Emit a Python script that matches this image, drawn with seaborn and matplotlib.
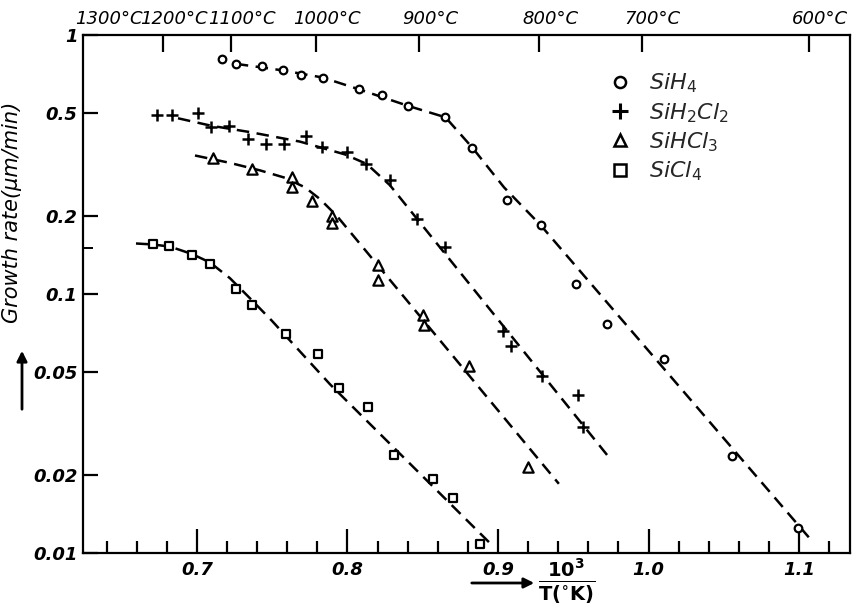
import matplotlib
matplotlib.use("Agg")
import matplotlib.pyplot as plt
import matplotlib.transforms as mtransforms
import seaborn as sns
import pandas as pd
from matplotlib.ticker import FixedLocator, MultipleLocator, NullFormatter
from matplotlib.lines import Line2D

# ---------------- data ----------------
sih4_x = [0.7164, 0.7258, 0.7435, 0.7572, 0.7693, 0.7836, 0.8076, 0.8226, 0.8405,
          0.8651, 0.8830, 0.9058, 0.9285, 0.9521, 0.9727, 1.0101, 1.0554, 1.0995]
sih4_y = [0.806, 0.774, 0.758, 0.730, 0.702, 0.685, 0.617, 0.589, 0.532,
          0.481, 0.367, 0.231, 0.184, 0.109, 0.0766, 0.0562, 0.0236, 0.01245]

sih2cl2_x = [0.6732, 0.6832, 0.7009, 0.7093, 0.7215, 0.7337, 0.7458, 0.7580, 0.7722, 0.7828,
             0.7995, 0.8126, 0.8282, 0.8465, 0.8651, 0.9031, 0.9086, 0.9290, 0.9528, 0.9565]
sih2cl2_y = [0.489, 0.489, 0.500, 0.441, 0.445, 0.395, 0.379, 0.379, 0.407, 0.371,
             0.354, 0.317, 0.276, 0.1945, 0.1524, 0.0719, 0.0628, 0.0483, 0.0409, 0.0307]

sihcl3_x = [0.7104, 0.7363, 0.7629, 0.7629, 0.7766, 0.7895, 0.7895, 0.8203, 0.8203,
            0.8501, 0.8510, 0.8807, 0.9197]
sihcl3_y = [0.335, 0.304, 0.284, 0.260, 0.229, 0.2006, 0.1873, 0.1297, 0.1137,
            0.0831, 0.0762, 0.0528, 0.0214]

sicl4_x = [0.6710, 0.6816, 0.6965, 0.7086, 0.7259, 0.7363, 0.7591, 0.7806, 0.7946,
           0.8136, 0.8311, 0.8568, 0.8703, 0.8881]
sicl4_y = [0.1553, 0.1539, 0.141, 0.1308, 0.1048, 0.0903, 0.0702, 0.0586, 0.0432,
           0.0365, 0.0238, 0.0193, 0.0163, 0.01088]

# dashed fit curves
sih4_fit_x = [0.7258, 0.7570, 0.7836, 0.8076, 0.8405, 0.8651, 0.8830, 0.9040, 0.9285, 1.1073]
sih4_fit_y = [0.774, 0.730, 0.685, 0.617, 0.532, 0.481, 0.367, 0.258, 0.1838, 0.01134]
sih2cl2_fit_x = [0.6874, 0.7093, 0.7352, 0.7684, 0.7983, 0.8128, 0.8282, 0.9727]
sih2cl2_fit_y = [0.477, 0.4465, 0.4218, 0.3876, 0.3459, 0.3177, 0.263, 0.0238]
sihcl3_fit_x = [0.6987, 0.7219, 0.7419, 0.7585, 0.7718, 0.7817, 0.7930, 0.9404]
sihcl3_fit_y = [0.3426, 0.3208, 0.3001, 0.2810, 0.258, 0.2326, 0.200, 0.0185]
sicl4_fit_x = [0.6595, 0.6708, 0.6821, 0.6967, 0.7086, 0.7219, 0.7352, 0.7498, 0.7884, 0.8953]
sicl4_fit_y = [0.1567, 0.1553, 0.1524, 0.1427, 0.1324, 0.1151, 0.0963, 0.0788, 0.0448, 0.01082]

series_names = ["SiH4", "SiH2Cl2", "SiHCl3", "SiCl4"]
legend_labels = [r"$SiH_4$", r"$SiH_2Cl_2$", r"$SiHCl_3$", r"$SiCl_4$"]

y_ticks = [0.01, 0.02, 0.05, 0.1, 0.2, 0.5, 1]
y_tick_labels = ["0.01", "0.02", "0.05", "0.1", "0.2", "0.5", "1"]
x_ticks = [0.7, 0.8, 0.9, 1.0, 1.1]
x_tick_labels = ["0.7", "0.8", "0.9", "1.0", "1.1"]
top_labels = ["1300°C", "1200°C", "1100°C", "1000°C", "900°C", "800°C", "700°C", "600°C"]
top_pos = [0.634, 0.6774, 0.7226, 0.7791, 0.8477, 0.9272, 0.9954, 1.1066]

# ---------------- figure ----------------
sns.set_theme(style="white")
plt.rcParams["font.family"] = ["DejaVu Sans"]
plt.rcParams["mathtext.fontset"] = "dejavusans"

W, H = 854, 606
fig = plt.figure(figsize=(W / 100, H / 100), dpi=100)
ax = fig.add_axes([83 / W, 1 - 553 / H, (850 - 83) / W, (553 - 35) / H])

pts = pd.concat([
    pd.DataFrame({"x": sih4_x, "y": sih4_y, "s": "SiH4"}),
    pd.DataFrame({"x": sih2cl2_x, "y": sih2cl2_y, "s": "SiH2Cl2"}),
    pd.DataFrame({"x": sihcl3_x, "y": sihcl3_y, "s": "SiHCl3"}),
    pd.DataFrame({"x": sicl4_x, "y": sicl4_y, "s": "SiCl4"}),
])
fits = pd.concat([
    pd.DataFrame({"x": sih4_fit_x, "y": sih4_fit_y, "s": "SiH4"}),
    pd.DataFrame({"x": sih2cl2_fit_x, "y": sih2cl2_fit_y, "s": "SiH2Cl2"}),
    pd.DataFrame({"x": sihcl3_fit_x, "y": sihcl3_fit_y, "s": "SiHCl3"}),
    pd.DataFrame({"x": sicl4_fit_x, "y": sicl4_fit_y, "s": "SiCl4"}),
])

for name in series_names:
    d = fits[fits.s == name]
    sns.lineplot(data=d, x="x", y="y", ax=ax, color="black", lw=1.8,
                 linestyle=(0, (5, 3)), sort=False, estimator=None)

marker_style = {
    "SiH4": dict(marker="o", s=30, facecolor="white", edgecolor="black", linewidth=1.6),
    "SiH2Cl2": dict(marker="+", s=80, color="black", linewidth=1.8),
    "SiHCl3": dict(marker="^", s=55, facecolor="white", edgecolor="black", linewidth=1.6),
    "SiCl4": dict(marker="s", s=32, facecolor="white", edgecolor="black", linewidth=1.6),
}
for name in series_names:
    d = pts[pts.s == name]
    sns.scatterplot(data=d, x="x", y="y", ax=ax, legend=False, zorder=3,
                    **marker_style[name])

ax.set_yscale("log")
ax.set_ylim(0.01, 1)
ax.set_xlim(0.6243, 1.1338)

ax.yaxis.set_major_locator(FixedLocator(y_ticks))
ax.set_yticklabels(y_tick_labels)
ax.yaxis.set_minor_locator(FixedLocator([0.15]))
ax.yaxis.set_minor_formatter(NullFormatter())
ax.xaxis.set_major_locator(FixedLocator(x_ticks))
ax.set_xticklabels(x_tick_labels)
ax.xaxis.set_minor_locator(MultipleLocator(0.02))

for lab in ax.get_xticklabels() + ax.get_yticklabels():
    lab.set_fontsize(13)
    lab.set_fontweight("bold")
    lab.set_fontstyle("italic")
    lab.set_color("black")

ax.tick_params(axis="x", which="major", direction="in", length=17, width=1.6,
               color="black", pad=6, bottom=True, top=False)
ax.tick_params(axis="x", which="minor", direction="in", length=9, width=1.6,
               color="black", bottom=True, top=False)
ax.tick_params(axis="y", which="major", direction="in", length=11, width=1.6,
               color="black", pad=4, left=True, right=False)
ax.tick_params(axis="y", which="minor", direction="in", length=7, width=1.4,
               color="black", left=True, right=False)

for sp in ax.spines.values():
    sp.set_visible(True)
    sp.set_color("black")
    sp.set_linewidth(1.6)

# top temperature axis
sec = ax.secondary_xaxis("top")
sec.set_xticks(top_pos)
sec.set_xticklabels(top_labels)
sec.tick_params(direction="in", length=12, width=1.6, color="black", pad=5)
sec.spines["top"].set_visible(False)
shift = mtransforms.ScaledTranslation(8 / 72, 0, fig.dpi_scale_trans)
for lab in sec.get_xticklabels():
    lab.set_fontsize(13)
    lab.set_fontstyle("italic")
    lab.set_color("black")
    lab.set_transform(lab.get_transform() + shift)
first = sec.xaxis.get_major_ticks()[0]
first.tick1line.set_visible(False)
first.tick2line.set_visible(False)

# axis labels
ax.set_ylabel("Growth rate(μm/min)", fontsize=15, fontstyle="italic", color="black")
ax.yaxis.set_label_coords((22 - 83) / 767, (553 - 212) / 518)
ax.set_xlabel(r"$\mathbf{\frac{10^3}{T(^{\circ}K)}}$", fontsize=20, color="black")
ax.xaxis.set_label_coords((567 - 83) / 767, (553 - 582) / 518)
ax.xaxis.label.set_va("center")

# arrows next to axis labels
fig.add_artist(matplotlib.patches.FancyArrowPatch(
    (22 / W, 1 - 412 / H), (22 / W, 1 - 348 / H), transform=fig.transFigure,
    arrowstyle="-|>,head_length=6,head_width=3", color="black", lw=2))
fig.add_artist(matplotlib.patches.FancyArrowPatch(
    (469 / W, 1 - 583 / H), (537 / W, 1 - 583 / H), transform=fig.transFigure,
    arrowstyle="-|>,head_length=6,head_width=3", color="black", lw=2))

# legend
handles = [
    Line2D([], [], ls="none", marker="o", ms=8, mfc="white", mec="black", mew=1.8),
    Line2D([], [], ls="none", marker="+", ms=12, color="black", mew=2.2),
    Line2D([], [], ls="none", marker="^", ms=9, mfc="white", mec="black", mew=1.8),
    Line2D([], [], ls="none", marker="s", ms=8, mfc="white", mec="black", mew=1.8),
]
leg = ax.legend(handles, legend_labels, loc="upper left",
                bbox_to_anchor=(600 / W, 1 - 63 / H), bbox_transform=fig.transFigure,
                frameon=False, fontsize=16, handlelength=1.0, handletextpad=0.8,
                labelspacing=0.25, borderaxespad=0)

fig.savefig("out.png", dpi=100, facecolor="white")
